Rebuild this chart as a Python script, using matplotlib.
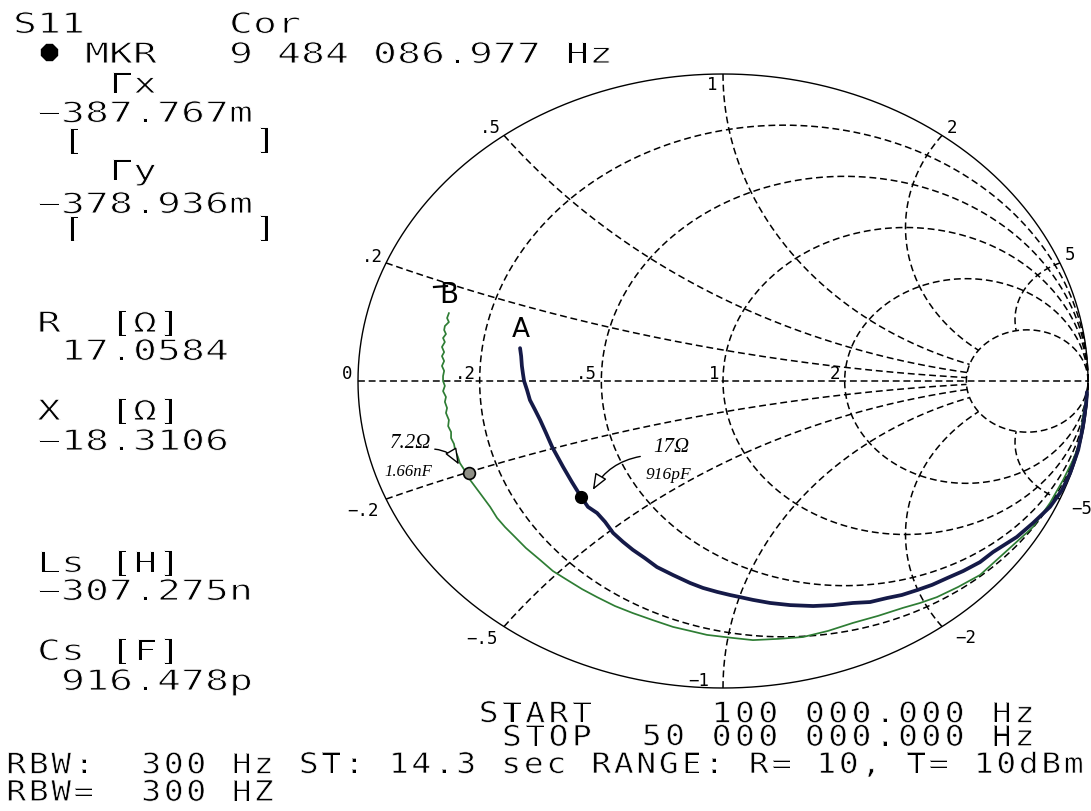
import numpy as np
import matplotlib
matplotlib.use("Agg")
import matplotlib.pyplot as plt
from matplotlib.patches import FancyArrowPatch
from matplotlib.patheffects import AbstractPathEffect
from matplotlib.transforms import Affine2D

# ---------------- chart values ----------------
R_CIRCLES = [0.2, 0.5, 1, 2, 5]          # constant-resistance circles
X_ARCS = [0.2, 0.5, 1, 2, 5]             # constant-reactance arcs (+/-)
R_LABELS = [".2", ".5", "1", "2"]
X_LABELS_POS = [".2", ".5", "1", "2", "5"]
X_LABELS_NEG = ["\u2212.2", "\u2212.5", "\u22121", "\u22122", "\u22125"]

# trace A (dark): reflection coefficient, real / imaginary part
TRACE_A_GX = [-0.556, -0.553, -0.551, -0.548, -0.545, -0.537, -0.529, -0.515,
              -0.501, -0.485, -0.468, -0.438, -0.414, -0.388, -0.370, -0.345,
              -0.323, -0.301, -0.274, -0.247, -0.214, -0.181, -0.137, -0.090,
              -0.055, -0.016, 0.019, 0.047, 0.082, 0.129, 0.184, 0.247, 0.301,
              0.356, 0.403, 0.449, 0.490, 0.532, 0.573, 0.614, 0.658, 0.704,
              0.740, 0.805, 0.849, 0.896, 0.929, 0.951, 0.973, 0.986, 0.995,
              0.997]
TRACE_A_GY = [0.107, 0.081, 0.049, 0.023, 0.000, -0.029, -0.062, -0.094,
              -0.127, -0.169, -0.215, -0.280, -0.329, -0.379, -0.410, -0.430,
              -0.459, -0.495, -0.524, -0.550, -0.577, -0.606, -0.632, -0.658,
              -0.674, -0.687, -0.697, -0.704, -0.713, -0.723, -0.730, -0.733,
              -0.730, -0.723, -0.720, -0.707, -0.697, -0.681, -0.664, -0.642,
              -0.619, -0.590, -0.557, -0.508, -0.463, -0.410, -0.355, -0.300,
              -0.225, -0.150, -0.072, -0.036]

# trace B (green): reflection coefficient, real / imaginary part
TRACE_B_GX = [-0.751, -0.756, -0.751, -0.762, -0.764, -0.759, -0.767, -0.762,
              -0.770, -0.764, -0.770, -0.764, -0.770, -0.764, -0.767, -0.767,
              -0.762, -0.767, -0.759, -0.762, -0.756, -0.759, -0.751, -0.753,
              -0.745, -0.745, -0.737, -0.734, -0.726, -0.721, -0.710, -0.693,
              -0.666, -0.638, -0.619, -0.597, -0.575, -0.540, -0.501, -0.466,
              -0.427, -0.386, -0.345, -0.296, -0.247, -0.192, -0.137, -0.090,
              -0.044, 0.027, 0.082, 0.151, 0.219, 0.288, 0.356, 0.425, 0.493,
              0.540, 0.586, 0.644, 0.704, 0.759, 0.849, 0.896, 0.932, 0.959,
              0.978, 0.986, 0.997]
TRACE_B_GY = [0.221, 0.205, 0.192, 0.179, 0.166, 0.153, 0.140, 0.127, 0.111,
              0.094, 0.081, 0.065, 0.049, 0.033, 0.016, 0.000, -0.016, -0.033,
              -0.052, -0.068, -0.088, -0.104, -0.127, -0.147, -0.166, -0.186,
              -0.205, -0.225, -0.248, -0.267, -0.287, -0.322, -0.365, -0.410,
              -0.446, -0.476, -0.502, -0.544, -0.583, -0.619, -0.648, -0.678,
              -0.704, -0.733, -0.756, -0.779, -0.801, -0.814, -0.827, -0.837,
              -0.844, -0.840, -0.834, -0.814, -0.788, -0.765, -0.739, -0.723,
              -0.704, -0.671, -0.632, -0.573, -0.476, -0.397, -0.322, -0.257,
              -0.202, -0.117, -0.039]

# marker readout
Z0 = 50.0
MKR_FREQ_HZ = 9484086.977
MKR_R_OHM = 17.0584
MKR_X_OHM = -18.3106
B_R_OHM = 7.2
B_C_F = 1.66e-9

# readout rows: (text, baseline px); tuples of two rows share columns
READOUT = [
    ("S11      Cor", 33),
    ("   MKR   9 484 086.977 Hz", 63),
    ("    \u0393x", 93),
    ((" \u2212387.767m", 122), ("  [       ]", 149)),
    ("    \u0393y", 180),
    ((" \u2212378.936m", 213), ("  [       ]", 237)),
    (" R  [\u03a9]", 332),
    ("  17.0584", 360),
    (" X  [\u03a9]", 420),
    (" \u221218.3106", 450),
    (" Ls [H]", 572),
    (" \u2212307.275n", 600),
    (" Cs [F]", 660),
    ("  916.478p", 690),
]
SWEEP_ROWS = (("START     100 000.000 Hz", 722), (" STOP  50 000 000.000 Hz", 745))
FOOTER_ROWS = (("RBW:  300 Hz ST: 14.3 sec RANGE: R= 10, T= 10dBm", 773),
               ("RBW=  300 HZ", 800))

# ---------------- figure / axes ----------------
W, H = 1091, 811
CX, CY, RX, RY = 723.0, 381.0, 365.0, 307.0   # chart centre and radii in pixels

fig = plt.figure(figsize=(W / 100, H / 100), dpi=100)
fig.patch.set_facecolor("white")
ax = fig.add_axes([0, 0, 1, 1])
ax.set_xlim(-CX / RX, (W - CX) / RX)
ax.set_ylim(-(H - CY) / RY, CY / RY)
ax.axis("off")


def px(x, y):
    """pixel position -> data (reflection-coefficient) coordinates"""
    return (x - CX) / RX, (CY - y) / RY


def to_px(gx, gy):
    return CX + gx * RX, CY - gy * RY


def gamma(z):
    return (z - 1) / (z + 1)


class PlotterGlyph(AbstractPathEffect):
    """Wide, thin-stroked lettering: widen each monospace glyph about its
    cell centre and shave its outline with a thin white stroke."""
    HALF_CELL = 30.1   # half the DejaVu Sans Mono advance, in text-path units

    def __init__(self, sx, thin_pt=0.0):
        super().__init__()
        self.sx = sx
        self.thin_pt = thin_pt

    def draw_path(self, renderer, gc, tpath, affine, rgbFace=None):
        tr = (Affine2D().translate(-self.HALF_CELL, 0).scale(self.sx, 1.0)
              .translate(self.HALF_CELL, 0) + affine)
        renderer.draw_path(gc, tpath, tr, rgbFace)
        if self.thin_pt > 0:
            gc2 = renderer.new_gc()
            gc2.copy_properties(gc)
            gc2.set_foreground("white")
            gc2.set_linewidth(self.thin_pt)
            renderer.draw_path(gc2, tpath, tr, None)
            gc2.restore()


MONO = ["DejaVu Sans Mono"]
FS = 20.5
ASC, DSC = 0.760, 0.208      # 'l' ascent and 'p' descent, in em


def mono(rows, x_left, pitch, sx, thin=0.7, size=FS):
    """Draw one row, or two rows sharing character columns."""
    if isinstance(rows[0], str):
        rows = (rows,)
    em = size * 100 / 72
    eff = [PlotterGlyph(sx, thin)]
    n = max(len(t) for t, _ in rows)
    texts = [t.ljust(n) for t, _ in rows]
    bases = [b for _, b in rows]
    ls = None
    if len(rows) == 2:
        ls = ((bases[1] - bases[0]) - DSC * em) / (ASC * em)
    for i in range(n):
        chars = [t[i] for t in texts]
        used = [k for k, c in enumerate(chars) if c != " "]
        if not used:
            continue
        xc = x_left + (i + 0.5) * pitch
        if len(used) == 1:
            k = used[0]
            ax.text(*px(xc, bases[k]), chars[k], ha="center", va="baseline",
                    fontsize=size, family=MONO, color="black", path_effects=eff)
        else:
            ax.text(*px(xc, bases[0] - ASC * em), "\n".join(chars),
                    ha="center", va="top", multialignment="center",
                    linespacing=ls, fontsize=size, family=MONO,
                    color="black", path_effects=eff)


# ---------------- graticule ----------------
dash = dict(color="black", lw=1.1, linestyle=(0, (4.5, 2.5)))
th = np.linspace(0, 2 * np.pi, 721)
for r in R_CIRCLES:
    c, rad = r / (1 + r), 1 / (1 + r)
    ax.plot(c + rad * np.cos(th), rad * np.sin(th), **dash)

rr = np.concatenate([np.linspace(0, 1, 200), np.linspace(1, 5, 300)[1:]])
for xv in X_ARCS:
    for s in (1, -1):
        g = gamma(rr + 1j * s * xv)
        ax.plot(g.real, g.imag, **dash)

ax.plot([-1, 1], [0, 0], **dash)
ax.plot(np.cos(th), np.sin(th), color="black", lw=1.0)

# graticule labels
LBL = 12.5
for lab, r in zip(R_LABELS, R_CIRCLES):
    gx = (r - 1) / (r + 1)
    x0, y0 = to_px(gx, 0)
    ax.text(*px(x0 - 4, y0 - 2), lab, ha="right", va="baseline",
            fontsize=LBL, family=MONO)

pos_off = [(-14, -6), (-14, -7), (-11, 11), (10, -7), (10, -8)]
neg_off = [(-23, 12), (-22, 12), (-24, -7), (24, 11), (22, 10)]
for labs, sgn, offs in ((X_LABELS_POS, 1, pos_off), (X_LABELS_NEG, -1, neg_off)):
    for lab, xv, (dx, dy) in zip(labs, X_ARCS, offs):
        g = gamma(1j * sgn * xv)
        x0, y0 = to_px(g.real, g.imag)
        ax.text(*px(x0 + dx, y0 + dy), lab, ha="center", va="center",
                fontsize=LBL, family=MONO)
x0, y0 = to_px(-1, 0)
ax.text(*px(x0 - 11, y0 - 7), "0", ha="center", va="center",
        fontsize=LBL, family=MONO)

# ---------------- traces ----------------
ax.plot(TRACE_B_GX, TRACE_B_GY, color="#2e7d34", lw=1.25, zorder=5)
ax.plot(TRACE_A_GX, TRACE_A_GY, color="#151a48", lw=2.7, zorder=6,
        solid_capstyle="round", solid_joinstyle="round")

# marker A from the readout impedance
gA = gamma(complex(MKR_R_OHM, MKR_X_OHM) / Z0)
ax.plot(gA.real, gA.imag, "o", color="black", ms=8.5, zorder=8)

# marker B from the hand-noted R and C at the marker frequency
xB = -1 / (2 * np.pi * MKR_FREQ_HZ * B_C_F)
gB = gamma(complex(B_R_OHM, xB) / Z0)
ax.plot(gB.real, gB.imag, "o", mfc="#8f8f86", mec="black", mew=1.2,
        ms=8.5, zorder=8)

# hand annotations
HAND = dict(family=["Liberation Serif"], style="italic", color="black")
ax.text(*px(521, 337), "A", ha="center", va="baseline", fontsize=19,
        family=["DejaVu Sans"], color="black")
ax.text(*px(449, 303), "B", ha="center", va="baseline", fontsize=20,
        family=["DejaVu Sans"], color="black")
ax.plot(*zip(px(434, 287), px(447, 286)), color="black", lw=1.6)
ax.text(*px(410, 444), "7.2\u03a9", ha="center", va="center", fontsize=15, **HAND)
ax.text(*px(408, 472), "1.66nF", ha="center", va="center", fontsize=12, **HAND)
ax.text(*px(671, 448), "17\u03a9", ha="center", va="center", fontsize=15, **HAND)
ax.text(*px(668, 475), "916pF", ha="center", va="center", fontsize=12.5, **HAND)

arr_kw = dict(arrowstyle="-|>,head_length=0.55,head_width=0.22",
              mutation_scale=18, lw=1.0, ec="black", fc="white", zorder=9)
bx, by = to_px(gB.real, gB.imag)
ax.add_patch(FancyArrowPatch(px(432, 449), px(bx - 9, by - 6),
                             connectionstyle="arc3,rad=-0.3", **arr_kw))
axp, ayp = to_px(gA.real, gA.imag)
ax.add_patch(FancyArrowPatch(px(643, 456), px(axp + 10, ayp - 5),
                             connectionstyle="arc3,rad=0.25", **arr_kw))

# ---------------- text readout ----------------
GRID_X, PITCH, WIDE = 13, 24.0, 1.38
for rows in READOUT:
    mono(rows, GRID_X, PITCH, WIDE)
ax.plot(*px(GRID_X + 1.5 * PITCH, 52), marker="8", color="black", ms=12)

mono(SWEEP_ROWS, 477, 23.3, 1.15, thin=0.5)
mono(FOOTER_ROWS, 5, 22.5, 1.15, thin=0.5)

fig.savefig("out.png", dpi=100, facecolor="white")
